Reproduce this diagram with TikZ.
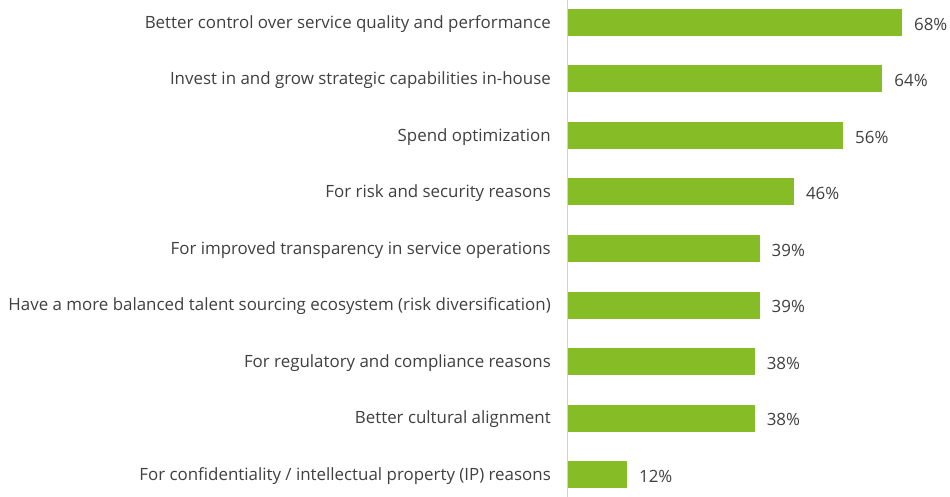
\documentclass[tikz,border=0pt]{standalone}
\usepackage{fontspec}
\setmainfont{Open Sans}
\definecolor{barg}{HTML}{86BC25}
\definecolor{txt}{HTML}{404040}
\definecolor{axisc}{HTML}{D0D0D0}
\begin{document}
\begin{tikzpicture}[x=1pt,y=-1pt,
  lbl/.style={anchor=east,inner sep=0pt,text=txt,font=\fontsize{16.9}{20}\selectfont},
  val/.style={anchor=west,inner sep=0pt,text=txt,font=\fontsize{16.9}{20}\selectfont},
  bar/.style={fill=barg,draw=none}]
\useasboundingbox (0,0) rectangle (950,497);
\draw[axisc,line width=1pt] (567.5,0) -- (567.5,497);
\foreach \i/\v/\t in {0/68/{Better control over service quality and performance},
  1/64/{Invest in and grow strategic capabilities in-house},
  2/56/{Spend optimization},
  3/46/{For risk and security reasons},
  4/39/{For improved transparency in service operations},
  5/39/{Have a more balanced talent sourcing ecosystem (risk diversification)},
  6/38/{For regulatory and compliance reasons},
  7/38/{Better cultural alignment},
  8/12/{For confidentiality / intellectual property (IP) reasons}}{
  \pgfmathsetmacro{\yc}{22.5+56.5*\i}
  \pgfmathsetmacro{\xe}{568+4.91*\v}
  \fill[bar] (568,\yc-13.5) rectangle (\xe,\yc+13.5);
  \node[lbl] (l\i) at (551,\yc+1.5) {\t};
  \node[val] (v\i) at (\xe+12,\yc+1.5) {\v\%};
}
\end{tikzpicture}
\end{document}
